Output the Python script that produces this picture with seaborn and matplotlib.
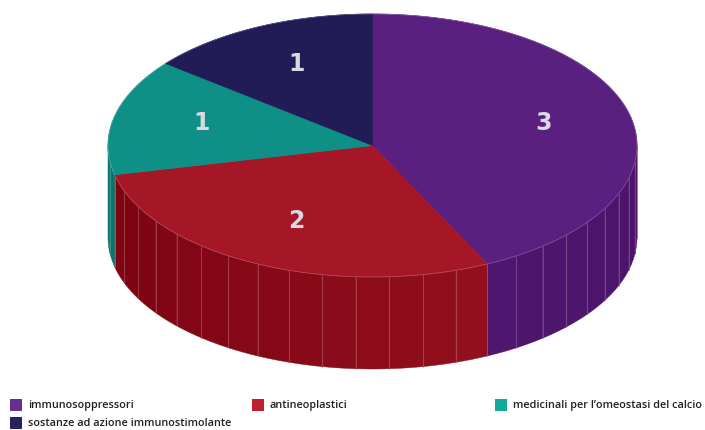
import numpy as np
import matplotlib
matplotlib.use("Agg")
import matplotlib.pyplot as plt
import seaborn as sns
from matplotlib.patches import Polygon, Rectangle
from matplotlib.colors import to_rgb

categories = ["immunosoppressori", "antineoplastici",
              "medicinali per l\u2019omeostasi del calcio",
              "sostanze ad azione immunostimolante"]
values = [3, 2, 1, 1]
top_colors = ["#59207F", "#A51727", "#0E9086", "#211B56"]
side_left = ["#541A78", "#7D0313", "#08756B", "#1A1548"]
side_right = ["#4C146A", "#9B1522", "#08756B", "#1A1548"]
legend_colors = ["#6A2D91", "#BE1E2D", "#16A99A", "#262262"]

sns.set_theme(style="white")
palette = sns.color_palette(top_colors)

W, H = 705, 430
fig = plt.figure(figsize=(W / 100, H / 100), dpi=100)
ax = fig.add_axes([0, 0, 1, 1])
ax.set_xlim(0, W)
ax.set_ylim(H, 0)
ax.axis("off")

cx, cy, a, b, depth = 372.5, 145.5, 264.5, 131.5, 92

def pt(theta):
    return cx + a * np.cos(theta), cy - b * np.sin(theta)

total = sum(values)
fracs = np.array(values) / total
starts = np.pi / 2 - 2 * np.pi * np.concatenate([[0], np.cumsum(fracs)[:-1]])
ends = starts - 2 * np.pi * fracs

def mix(c1, c2, t):
    c1, c2 = np.array(to_rgb(c1)), np.array(to_rgb(c2))
    return tuple(c1 + (c2 - c1) * t)

# side faces (front half: sin(theta) < 0)
for i in range(len(values)):
    lo, hi = ends[i], starts[i]
    segs = []
    for off in (0, -2 * np.pi, 2 * np.pi):
        l = max(lo, -np.pi + off)
        h = min(hi, 0 + off)
        if h > l:
            segs.append((l - off, h - off))
    for (l, h) in segs:
        nfac = max(1, int(np.ceil((h - l) / np.radians(7.5))))
        edges = np.linspace(h, l, nfac + 1)
        for k in range(nfac):
            t0, t1 = edges[k], edges[k + 1]
            th = np.linspace(t0, t1, 12)
            xs, ys = pt(th)
            poly = np.column_stack([np.concatenate([xs, xs[::-1]]),
                                    np.concatenate([ys, ys[::-1] + depth])])
            tmid = (t0 + t1) / 2
            frac = (np.cos(tmid) + 1) / 2
            col = mix(side_left[i], side_right[i], frac)
            ax.add_patch(Polygon(poly, closed=True, facecolor=col,
                                 edgecolor=col, linewidth=0.3, zorder=1))
            x0, y0 = pt(t0)
            ax.plot([x0, x0], [y0, y0 + depth], color=mix(col, "#ffffff", 0.3),
                    linewidth=0.5, zorder=1.5)

# top slices
for i in range(len(values)):
    th = np.linspace(starts[i], ends[i], 200)
    xs, ys = pt(th)
    poly = np.column_stack([np.concatenate([[cx], xs]), np.concatenate([[cy], ys])])
    ax.add_patch(Polygon(poly, closed=True, facecolor=palette[i],
                         edgecolor=palette[i], linewidth=0.5, zorder=2))
    ax.plot(xs, ys, color=mix(palette[i], "#ffffff", 0.25), linewidth=0.5, zorder=2.5)
    mid = (starts[i] + ends[i]) / 2
    lx, ly = cx + 0.663 * a * np.cos(mid), cy - 0.663 * b * np.sin(mid) - 3
    ax.text(lx, ly, str(values[i]), ha="center", va="center", fontsize=17,
            fontweight="bold", color="#D9D9E2", family="DejaVu Sans", zorder=3)

# legend
leg_pos = [(10, 399), (252, 399), (495, 399), (10, 417)]
for i, (x, y) in enumerate(leg_pos):
    ax.add_patch(Rectangle((x, y), 12, 12, facecolor=legend_colors[i],
                           edgecolor="none", zorder=3))
    ax.text(x + 18, y + 6.5, categories[i], ha="left", va="center",
            fontsize=7.8, fontweight="semibold", family="Open Sans",
            color="#231F20", zorder=3)

fig.savefig("out.png", dpi=100)
